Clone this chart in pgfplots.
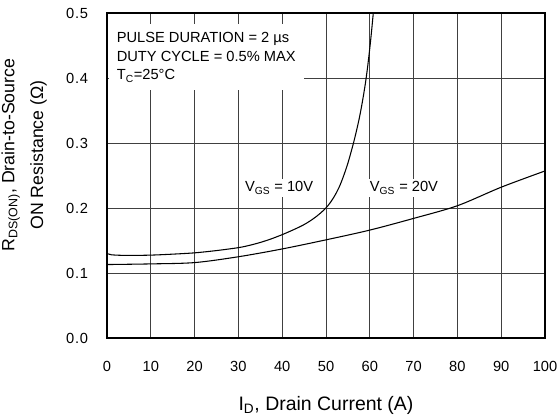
\documentclass[border=0pt]{standalone}
\usepackage{fontspec}
\setmainfont{Liberation Sans}
\usepackage{pgfplots}
\pgfplotsset{compat=1.18}

\begin{document}
\begin{tikzpicture}
% fixed page: 560x416 px at 0.75pt per px
\useasboundingbox (0,0) rectangle (420pt,312pt);
\begin{axis}[
    at={(80.25pt,58.5pt)}, anchor=south west,
    scale only axis,
    width=328.5pt, height=243.75pt,
    xmin=0, xmax=100,
    ymin=0, ymax=0.5,
    xtick={0,10,20,30,40,50,60,70,80,90,100},
    ytick={0,0.1,0.2,0.3,0.4,0.5},
    grid=major,
    major grid style={black!75, line width=0.65pt},
    axis line style={line width=1.3pt},
    major tick length=0pt,
    scaled y ticks=false,
    /pgf/number format/assume math mode=true,
    tick label style={font=\fontsize{11}{13}\selectfont, inner sep=0pt},
    xticklabel style={anchor=base, yshift=-25.5pt},
    yticklabel style={anchor=east, xshift=-14pt,
        font=\fontsize{11}{13}\selectfont\addfontfeature{LetterSpace=5},
        /pgf/number format/fixed,
        /pgf/number format/fixed zerofill,
        /pgf/number format/precision=1},
]
% V_GS = 10 V
\addplot[black, line width=0.8pt, smooth] coordinates {
    (0,0.130) (1,0.128) (2,0.1275) (5,0.127) (10,0.1275) (15,0.129)
    (20,0.131) (25,0.1345) (30,0.139) (32.5,0.1425) (35,0.147)
    (37.5,0.1525) (40,0.159) (42,0.1648) (44,0.171) (45,0.1745)
    (46,0.1785) (47,0.183) (48,0.188) (49,0.1937) (50,0.2002)
    (51,0.2085) (52,0.219) (53,0.232) (54,0.249) (55,0.269) (56,0.293)
    (56.5,0.306) (57,0.320) (57.5,0.335) (58,0.352) (58.5,0.371)
    (59,0.392) (59.5,0.417) (60,0.446) (60.4,0.472) (60.8,0.500)
};
% V_GS = 20 V
\addplot[black, line width=0.8pt, smooth] coordinates {
    (0,0.113) (10,0.114) (20,0.116) (30,0.125) (40,0.137) (50,0.151)
    (60,0.166) (70,0.184) (80,0.2035) (90,0.232) (100,0.257)
};

\node[anchor=north west, fill=white, inner sep=6pt, align=left,
      font=\fontsize{11}{14}\selectfont] at (axis cs:0.35,0.483)
    {PULSE DURATION = 2 µs\\DUTY CYCLE = 0.5\% MAX\\T\textsubscript{C}=25°C};
\node[fill=white, inner sep=2pt, font=\fontsize{11}{13}\selectfont]
    at (axis cs:39.3,0.231) {V\textsubscript{GS} = 10V};
\node[fill=white, inner sep=2pt, font=\fontsize{11}{13}\selectfont]
    at (axis cs:67.8,0.231) {V\textsubscript{GS} = 20V};
\end{axis}

% axis titles
\node[rotate=90, anchor=base, font=\fontsize{13.3}{16}\selectfont]
    at (10.8pt,195.75pt) {R\textsubscript{DS(ON)}, Drain-to-Source};
\node[rotate=90, anchor=base, font=\fontsize{13.3}{16}\selectfont]
    at (32.25pt,195.75pt) {ON Resistance (Ω)};
\node[anchor=base, font=\fontsize{14.6}{17}\selectfont]
    at (244.5pt,3.75pt) {I\textsubscript{D}, Drain Current (A)};
\end{tikzpicture}
\end{document}
